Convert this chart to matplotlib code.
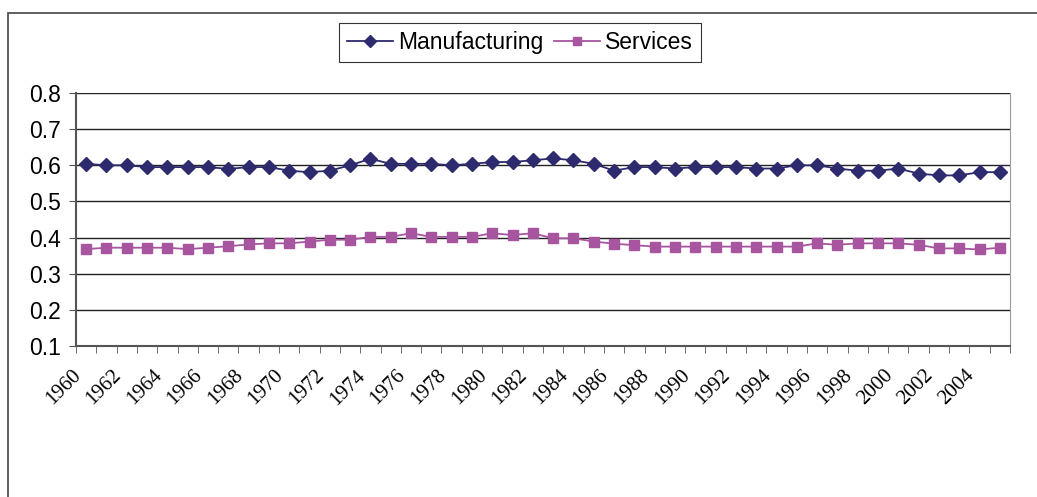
import numpy as np
import matplotlib.pyplot as plt
import matplotlib.transforms as mtransforms
from matplotlib.patches import Rectangle

years = list(range(1960, 2006))
manufacturing = [0.604, 0.600, 0.600, 0.595, 0.595, 0.595, 0.595, 0.590, 0.595, 0.595,
                 0.585, 0.581, 0.585, 0.600, 0.618, 0.604, 0.604, 0.604, 0.600, 0.604,
                 0.609, 0.609, 0.614, 0.619, 0.614, 0.604, 0.585, 0.595, 0.595, 0.591,
                 0.595, 0.595, 0.595, 0.591, 0.591, 0.600, 0.600, 0.591, 0.585, 0.585,
                 0.591, 0.577, 0.572, 0.572, 0.581, 0.581]
services = [0.368, 0.372, 0.372, 0.372, 0.372, 0.368, 0.372, 0.376, 0.381, 0.384,
            0.384, 0.389, 0.394, 0.394, 0.402, 0.402, 0.412, 0.402, 0.402, 0.402,
            0.412, 0.407, 0.412, 0.398, 0.398, 0.389, 0.383, 0.379, 0.375, 0.375,
            0.375, 0.375, 0.375, 0.375, 0.375, 0.375, 0.384, 0.380, 0.384, 0.384,
            0.384, 0.380, 0.370, 0.370, 0.367, 0.372]

fig = plt.figure(figsize=(10.37, 4.97), dpi=100)
fig.patches.append(Rectangle((8 / 1037, -0.1), 1.1, 1 - 13 / 497 + 0.1, transform=fig.transFigure,
                             fill=False, edgecolor='#444444', linewidth=1.2))
ax = fig.add_axes([76 / 1037, 1 - 346 / 497, (1010 - 76) / 1037, (346 - 93) / 497])

x = np.arange(len(years))
ax.plot(x, manufacturing, color='#2E2A6E', marker='D', markersize=7.5, linewidth=1.3,
        label='Manufacturing')
ax.plot(x, services, color='#A855A0', marker='s', markersize=7, linewidth=1.3,
        label='Services')

ax.set_xlim(-0.5, len(years) - 0.5)
ax.set_ylim(0.1, 0.8)
ax.set_yticks(np.arange(0.1, 0.81, 0.1))
ax.set_yticklabels([f'{v:.1f}' for v in np.arange(0.1, 0.81, 0.1)], fontsize=16.5,
                   family='Liberation Sans')
ax.yaxis.grid(True, color='#222222', linewidth=1.0)
ax.set_axisbelow(True)

ax.set_xticks(x[::2])
ax.set_xticklabels([str(y) for y in years[::2]], rotation=45, ha='right',
                   rotation_mode='anchor', fontsize=15, family='Liberation Serif')
ax.set_xticks(np.arange(-0.5, len(years), 1), minor=True)
ax.tick_params(axis='x', which='major', length=0, pad=8)
ax.tick_params(axis='x', which='minor', length=5, color='#555555')
ax.tick_params(axis='y', length=5, pad=6, color='#555555')

for s in ['left', 'bottom']:
    ax.spines[s].set_color('#555555')
    ax.spines[s].set_linewidth(1.5)
ax.spines['right'].set_color('#999999')
ax.spines['top'].set_visible(False)

leg = fig.legend(loc='center', bbox_to_anchor=(520 / 1037, 1 - 42.5 / 497), ncol=2,
                 prop={'family': 'Liberation Sans', 'size': 16.5},
                 frameon=True, fancybox=False, handlelength=2.0, columnspacing=0.5,
                 handletextpad=0.2, borderpad=0.35, markerscale=0.8)
leg.get_frame().set_edgecolor('black')
leg.get_frame().set_linewidth(0.8)

# nudge the year labels down-left like the original
fig.canvas.draw()
shift = mtransforms.ScaledTranslation(-15 / 100, -9 / 100, fig.dpi_scale_trans)
for tick in ax.xaxis.get_major_ticks():
    tick.label1.set_transform(tick.label1.get_transform() + shift)

fig.savefig('out.png', dpi=100)
